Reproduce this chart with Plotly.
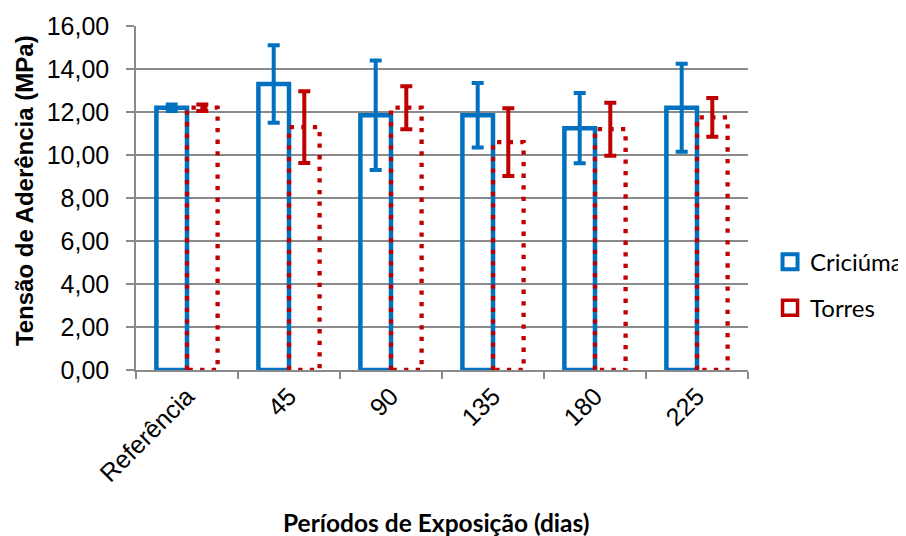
import plotly.graph_objects as go

categories = ["Referência", "45", "90", "135", "180", "225"]
criciuma = [12.2, 13.3, 11.85, 11.85, 11.25, 12.2]
criciuma_err = [0.15, 1.8, 2.55, 1.5, 1.63, 2.05]
torres = [12.2, 11.3, 12.2, 10.6, 11.2, 11.75]
torres_err = [0.15, 1.67, 1.0, 1.58, 1.23, 0.9]

BLUE = "#0070C0"
RED = "#C00000"
GRID = "#8a8a8a"
W = 0.3  # bar width in category units


def outline(values, offset):
    xs, ys = [], []
    for i, v in enumerate(values):
        x0 = i + offset
        x1 = x0 + W
        xs += [x0, x0, x1, x1, x0, None]
        ys += [0, v, v, 0, 0, None]
    return xs, ys


fig = go.Figure()

cx, cy = outline(criciuma, -W)
tx, ty = outline(torres, 0)

fig.add_trace(go.Scatter(x=cx, y=cy, mode="lines", line=dict(color=BLUE, width=4.5),
                         showlegend=False, hoverinfo="skip"))
fig.add_trace(go.Scatter(x=tx, y=ty, mode="lines",
                         line=dict(color=RED, width=4.3, dash="4.3px,7.3px"),
                         showlegend=False, hoverinfo="skip"))

idx = list(range(len(categories)))
fig.add_trace(go.Scatter(x=[i - W / 2 for i in idx], y=criciuma, mode="markers",
                         marker=dict(size=1, opacity=0),
                         error_y=dict(type="data", array=criciuma_err, visible=True,
                                      color=BLUE, thickness=4, width=6),
                         showlegend=False))
fig.add_trace(go.Scatter(x=[i + W / 2 for i in idx], y=torres, mode="markers",
                         marker=dict(size=1, opacity=0),
                         error_y=dict(type="data", array=torres_err, visible=True,
                                      color=RED, thickness=4, width=6),
                         showlegend=False))

# legend entries
fig.add_trace(go.Scatter(x=[None], y=[None], mode="markers", name="Criciúma",
                         legendgroup="a",
                         marker=dict(symbol="square-open", size=15, color=BLUE,
                                     line=dict(width=4, color=BLUE))))
fig.add_trace(go.Scatter(x=[None], y=[None], mode="markers", name="Torres",
                         legendgroup="b",
                         marker=dict(symbol="square-open", size=15, color=RED,
                                     line=dict(width=3.5, color=RED))))

TICKFONT = dict(family="Liberation Sans, Arial", size=25, color="#000000")

# The page body adds an 8px offset; the figure is sized to fit the window.
fig.update_layout(
    width=898, height=528,
    margin=dict(l=128, r=158, t=18, b=166, autoexpand=False),
    paper_bgcolor="white", plot_bgcolor="white",
    separators=",.",
    showlegend=True,
    legend=dict(x=1.036, y=0.247, xanchor="left", yanchor="middle",
                traceorder="grouped", tracegroupgap=12,
                font=dict(family="Lato, Carlito, Calibri", size=24, color="#000000"),
                bgcolor="rgba(0,0,0,0)"),
    xaxis=dict(range=[-0.5, 5.5], tickmode="array", tickvals=idx, ticktext=categories,
               tickangle=-45, ticks="", tickfont=TICKFONT, showgrid=False,
               zeroline=False, showline=True, linecolor=GRID, linewidth=1.5,
               automargin=False,
               minor=dict(tickmode="array", tickvals=[i - 0.5 for i in range(len(categories) + 1)],
                          ticks="outside", ticklen=7, tickcolor=GRID, tickwidth=1.5,
                          showgrid=False)),
    yaxis=dict(range=[0, 16], dtick=2, tickformat=".2f", tickfont=TICKFONT,
               showgrid=True, gridcolor=GRID, gridwidth=1.5, zeroline=False,
               showline=True, linecolor=GRID, linewidth=1.5, ticklabelstandoff=12,
               automargin=False,
               ticks="outside", ticklen=8, tickcolor=GRID, tickwidth=1.5),
    annotations=[
        dict(text="<b>Períodos de Exposição (dias)</b>", xref="paper", yref="paper",
             x=0.491, y=-0.442, xanchor="center", yanchor="middle", showarrow=False,
             font=dict(family="Lato, Carlito, Calibri", size=24.5, color="#000000")),
        dict(text="<b>Tensão de Aderência (MPa)</b>", xref="paper", yref="paper",
             x=-0.183, y=0.52, xanchor="center", yanchor="middle", showarrow=False,
             textangle=-90,
             font=dict(family="Liberation Sans, Arial", size=24, color="#000000")),
    ],
)

fig.write_html("out.html")
